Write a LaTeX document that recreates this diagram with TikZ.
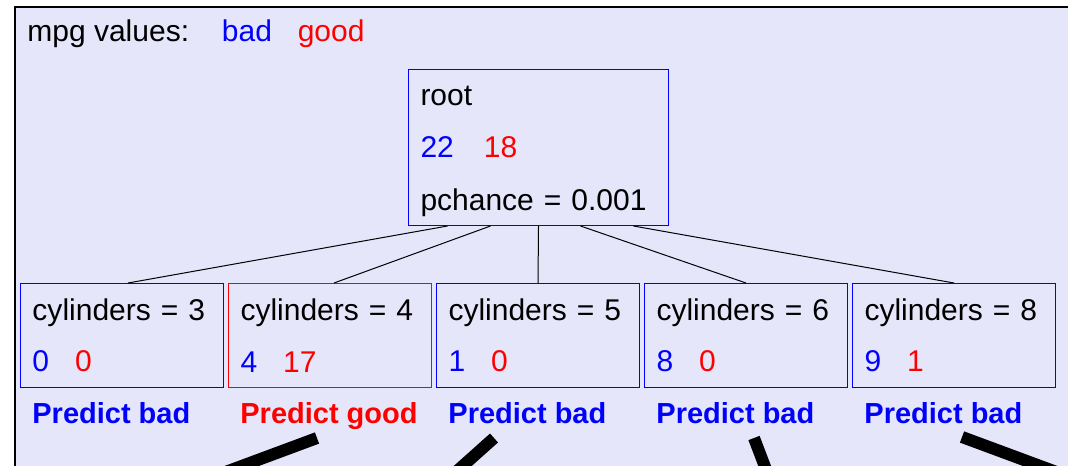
\documentclass[tikz,border=0pt]{standalone}
\usepackage{fontspec}
\setmainfont{Liberation Sans}
\usepackage{xcolor}
\usetikzlibrary{positioning}
\definecolor{mpgblue}{HTML}{0000FF}
\definecolor{mpgred}{HTML}{FF0000}
\definecolor{mpgpanel}{HTML}{E6E6FA}
\newcommand{\tally}[3][13pt]{\textcolor{mpgblue}{#2}\hspace{#1}\textcolor{mpgred}{#3}}
\tikzset{
  panel/.style={
    fill=mpgpanel,
    draw=black,
    line width=1pt
  },
  keytext/.style={inner sep=0pt, font=\fontsize{15}{18}\selectfont},
  splitbox/.style={
    draw=mpgblue,
    fill=mpgpanel,
    line width=.5pt,
    align=left,
    inner xsep=6pt,
    inner ysep=0pt,
    font=\fontsize{15}{25.75}\selectfont
  },
  rootbox/.style={
    splitbox,
    text width=118pt,
    minimum height=78pt
  },
  leafbox/.style={
    splitbox,
    text width=89.5pt,
    minimum height=52pt
  },
  goodbox/.style={
    leafbox,
    draw=mpgred
  },
  verdict/.style={inner sep=0pt, font=\bfseries\fontsize{14.5}{18}\selectfont},
  branch/.style={draw=black, line width=.5pt},
  pointer/.style={draw=black, line width=6pt}
}

\begin{document}
\begin{tikzpicture}[x=.5pt, y=-.5pt]
  \useasboundingbox (0,0) rectangle (1068,465);
  \draw[panel] (15,7.5) rectangle (1090,490);

  % legend
  \node[keytext, anchor=base west] (key) at (27,42) {mpg values:};
  \node[keytext, text=mpgblue, base right=16pt of key] (keybad) {bad};
  \node[keytext, text=mpgred, base right=12.5pt of keybad] (keygood) {good};

  \node[rootbox, anchor=north west] (root) at (408,69)
    {\rule{0pt}{14pt}root\\ \tally[15pt]{22}{18}\\[1pt] pchance = 0.001};

  \node[leafbox, anchor=north west] (cyl3) at (20,283)
    {cylinders = 3\\ \tally{0}{0}};
  \node[goodbox, right=2pt of cyl3] (cyl4)
    {cylinders = 4\\ \tally{4}{17}};
  \node[leafbox, right=2pt of cyl4] (cyl5)
    {cylinders = 5\\ \tally{1}{0}};
  \node[leafbox, right=2pt of cyl5] (cyl6)
    {cylinders = 6\\ \tally{8}{0}};
  \node[leafbox, right=2pt of cyl6] (cyl8)
    {cylinders = 8\\ \tally{9}{1}};

  \node[verdict, text=mpgblue, below right=7pt and 6pt of cyl3.south west] (say3) {Predict bad};
  \node[verdict, text=mpgred, below right=7pt and 6pt of cyl4.south west] (say4) {Predict good};
  \node[verdict, text=mpgblue, below right=7pt and 6pt of cyl5.south west] (say5) {Predict bad};
  \node[verdict, text=mpgblue, below right=7pt and 6pt of cyl6.south west] (say6) {Predict bad};
  \node[verdict, text=mpgblue, below right=7pt and 6pt of cyl8.south west] (say8) {Predict bad};

  \draw[branch] ([xshift=-45.5pt]root.south) -- ([xshift=3pt]cyl3.north);
  \draw[branch] ([xshift=-24pt]root.south) -- ([xshift=2pt]cyl4.north);
  \draw[branch] (root.south) -- (cyl5.north);
  \draw[branch] ([xshift=21pt]root.south) -- (cyl6.north);
  \draw[branch] ([xshift=47.5pt]root.south) -- (cyl8.north);

  % pointers coming up from below the frame
  \coordinate (tip4) at (317,438);
  \coordinate (tail4) at (204,480);
  \coordinate (tip5) at (494,438);
  \coordinate (tail5) at (447,480);
  \coordinate (tip6) at (754,438);
  \coordinate (tail6) at (770,480);
  \coordinate (tip8) at (962,437);
  \coordinate (tail8) at (1078,480);
  \draw[pointer] (tip4) -- (tail4);
  \draw[pointer] (tip5) -- (tail5);
  \draw[pointer] (tip6) -- (tail6);
  \draw[pointer] (tip8) -- (tail8);
\end{tikzpicture}
\end{document}
